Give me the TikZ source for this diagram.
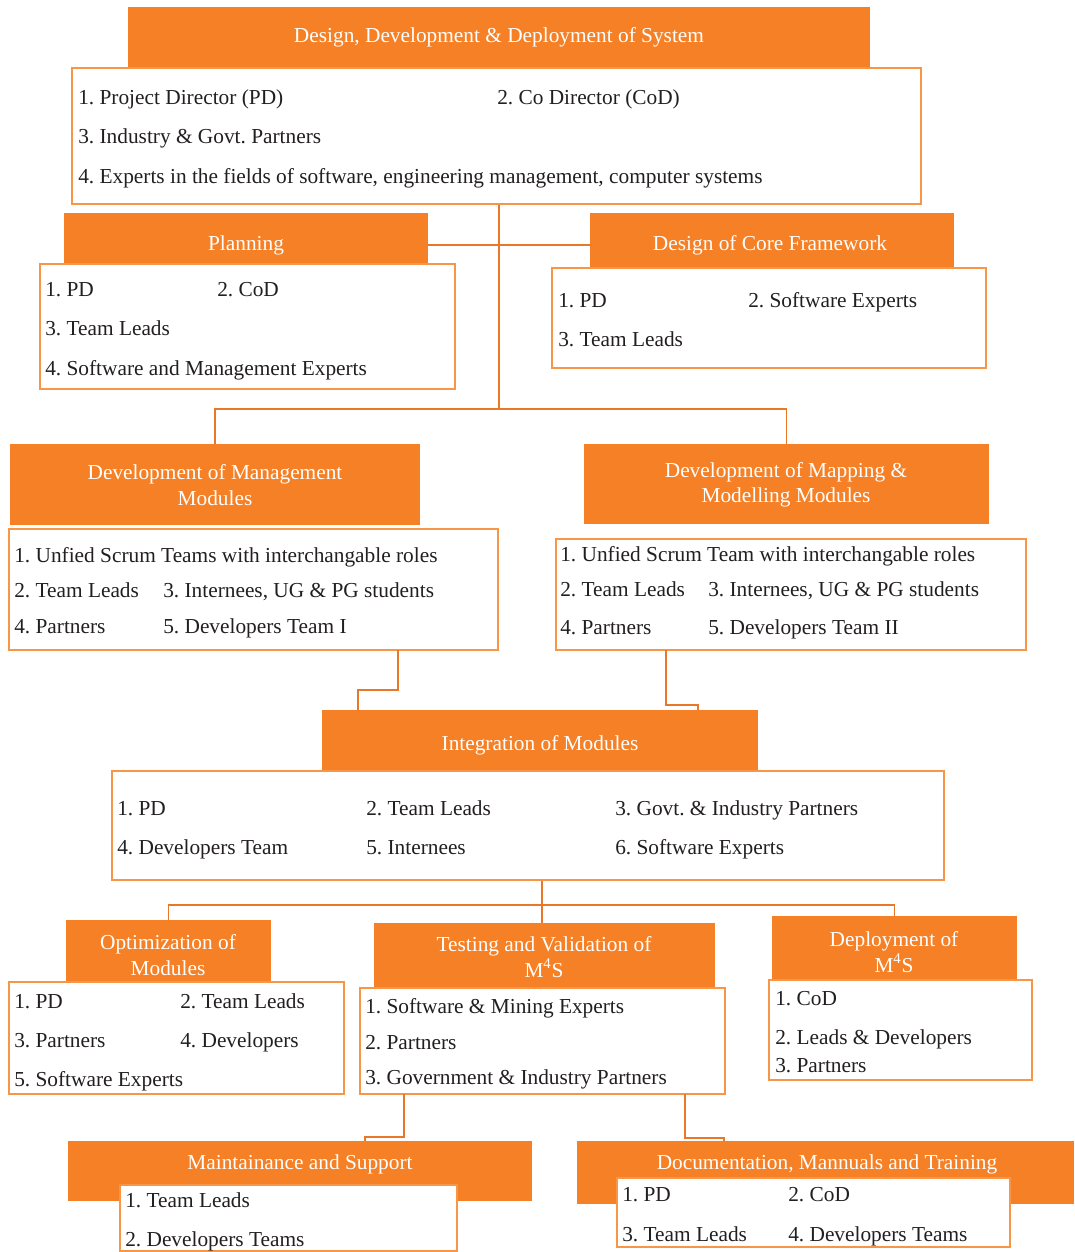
\documentclass[tikz,border=0pt]{standalone}
\usepackage{fontspec}
\setmainfont{Liberation Serif}
\usetikzlibrary{fit}
\definecolor{hdorange}{RGB}{245,128,37}
\definecolor{boxline}{RGB}{247,150,70}
\definecolor{linkorange}{RGB}{232,120,40}
\definecolor{ink}{RGB}{35,31,32}

\begin{document}
\frenchspacing
\begin{tikzpicture}[x=0.75pt,y=-0.75pt,
  head/.style={fill=hdorange,draw=none,inner sep=0pt},
  htext/.style={inner sep=0pt,yshift=-1.5pt,text=white,align=center,font=\fontsize{16}{19}\selectfont},
  list/.style={draw=boxline,fill=white,line width=1pt,inner sep=0pt},
  item/.style={anchor=base west,yshift=-5.25pt,inner sep=0pt,text=ink,font=\fontsize{16}{19}\selectfont},
  link/.style={draw=linkorange,line width=1.1pt}]
  \useasboundingbox (0,0) rectangle (1074,1252);

  % system
  \node[head, fit={(128,7) (870,68)}] (topH) {};
  \node[htext] (topT) at (499,35) {Design, Development \& Deployment of System};
  \node[list, fit={(72,68) (921,204)}] (topL) {};
  \node[item] (top1) at (78,98) {1. Project Director (PD)};
  \node[item] (top2) at (497,98) {2. Co Director (CoD)};
  \node[item] (top3) at (78,137) {3. Industry \& Govt. Partners};
  \node[item] (top4) at (78,177) {4. Experts in the fields of software, engineering management, computer systems};

  % planning
  \node[head, fit={(64,213) (428,264)}] (planH) {};
  \node[htext] (planT) at (246,243) {Planning};
  \node[list, fit={(40,264) (455,389)}] (planL) {};
  \node[item] (plan1) at (45,289) {1. PD};
  \node[item] (plan2) at (217,289) {2. CoD};
  \node[item] (plan3) at (45,328) {3. Team Leads};
  \node[item] (plan4) at (45,368) {4. Software and Management Experts};

  % core framework
  \node[head, fit={(590,213) (954,268)}] (coreH) {};
  \node[htext] (coreT) at (770,243) {Design of Core Framework};
  \node[list, fit={(552,268) (986,368)}] (coreL) {};
  \node[item] (core1) at (558,300) {1. PD};
  \node[item] (core2) at (748,300) {2. Software Experts};
  \node[item] (core3) at (558,339) {3. Team Leads};

  % management modules
  \node[head, fit={(10,444) (420,525)}] (mgmtH) {};
  \node[htext] (mgmtT) at (215,483) {Development of Management\\Modules};
  \node[list, fit={(9,529) (498,650)}] (mgmtL) {};
  \node[item] (mgmt1) at (14,555) {1. Unfied Scrum Teams with interchangable roles};
  \node[item] (mgmt2) at (14,590) {2. Team Leads};
  \node[item] (mgmt3) at (163,590) {3. Internees, UG \& PG students};
  \node[item] (mgmt4) at (14,626) {4. Partners};
  \node[item] (mgmt5) at (163,626) {5. Developers Team I};

  % mapping modules
  \node[head, fit={(584,444) (989,524)}] (mapH) {};
  \node[htext] (mapT) at (786,483) {Development of Mapping \&\\Modelling Modules};
  \node[list, fit={(556,539) (1026,650)}] (mapL) {};
  \node[item] (map1) at (560,554) {1. Unfied Scrum Team with interchangable roles};
  \node[item] (map2) at (560,589) {2. Team Leads};
  \node[item] (map3) at (708,589) {3. Internees, UG \& PG students};
  \node[item] (map4) at (560,627) {4. Partners};
  \node[item] (map5) at (708,627) {5. Developers Team II};

  % integration
  \node[head, fit={(322,710) (758,771)}] (intH) {};
  \node[htext] (intT) at (540,743) {Integration of Modules};
  \node[list, fit={(112,771) (944,880)}] (intL) {};
  \node[item] (int1) at (117,808) {1. PD};
  \node[item] (int2) at (366,808) {2. Team Leads};
  \node[item] (int3) at (615,808) {3. Govt. \& Industry Partners};
  \node[item] (int4) at (117,847) {4. Developers Team};
  \node[item] (int5) at (366,847) {5. Internees};
  \node[item] (int6) at (615,847) {6. Software Experts};

  % optimization
  \node[head, fit={(66,920) (271,982)}] (optH) {};
  \node[htext] (optT) at (168,953) {Optimization of\\Modules};
  \node[list, fit={(9,982) (344,1094)}] (optL) {};
  \node[item] (opt1) at (14,1001) {1. PD};
  \node[item] (opt2) at (180,1001) {2. Team Leads};
  \node[item] (opt3) at (14,1040) {3. Partners};
  \node[item] (opt4) at (180,1040) {4. Developers};
  \node[item] (opt5) at (14,1079) {5. Software Experts};

  % testing
  \node[head, fit={(374,923) (715,988)}] (testH) {};
  \node[htext] (testT) at (544,955) {Testing and Validation of\\M\textsuperscript{4}S};
  \node[list, fit={(360,988) (725,1094)}] (testL) {};
  \node[item] (test1) at (365,1006) {1. Software \& Mining Experts};
  \node[item] (test2) at (365,1042) {2. Partners};
  \node[item] (test3) at (365,1077) {3. Government \& Industry Partners};

  % deployment
  \node[head, fit={(772,916) (1017,980)}] (depH) {};
  \node[htext] (depT) at (894,950) {Deployment of\\M\textsuperscript{4}S};
  \node[list, fit={(769,980) (1032,1080)}] (depL) {};
  \node[item] (dep1) at (775,998) {1. CoD};
  \node[item] (dep2) at (775,1037) {2. Leads \& Developers};
  \node[item] (dep3) at (775,1065) {3. Partners};

  % maintainance
  \node[head, fit={(68,1141) (532,1201)}] (mainH) {};
  \node[htext] (mainT) at (300,1162) {Maintainance and Support};
  \node[list, fit={(120,1185) (457,1251)}] (mainL) {};
  \node[item] (main1) at (125,1200) {1. Team Leads};
  \node[item] (main2) at (125,1239) {2. Developers Teams};

  % documentation
  \node[head, fit={(577,1141) (1074,1204)}] (docH) {};
  \node[htext] (docT) at (827,1162) {Documentation, Mannuals and Training};
  \node[list, fit={(617,1178) (1010,1247)}] (docL) {};
  \node[item] (doc1) at (622,1194) {1. PD};
  \node[item] (doc2) at (788,1194) {2. CoD};
  \node[item] (doc3) at (622,1234) {3. Team Leads};
  \node[item] (doc4) at (788,1234) {4. Developers Teams};

  % joints
  \coordinate (split1) at (499,409);
  \coordinate (planOut) at (428,245);
  \coordinate (mgmtOut) at (398,650);
  \coordinate (mapOut) at (666,650);
  \coordinate (split3) at (542,905);
  \coordinate (testOutA) at (404,1094);
  \coordinate (testOutB) at (685,1094);

  \draw[link] (topL.south -| split1) -- (split1);
  \draw[link] (planOut) -- (planOut -| coreH.west);
  \draw[link] (mgmtH.north) |- (split1) -| (mapH.north);
  \draw[link] (mgmtOut) |- (358,690) -- (intH.north -| 358,0);
  \draw[link] (mapOut) |- (698,705) -- (intH.north -| 698,0);
  \draw[link] (intL.south -| split3) -- (split3);
  \draw[link] (optH.north) |- (split3) -| (depH.north);
  \draw[link] (split3) -- (testH.north -| split3);
  \draw[link] (testOutA) |- (365,1137) -- (mainH.north -| 365,0);
  \draw[link] (testOutB) |- (724,1138) -- (docH.north -| 724,0);
\end{tikzpicture}
\end{document}
